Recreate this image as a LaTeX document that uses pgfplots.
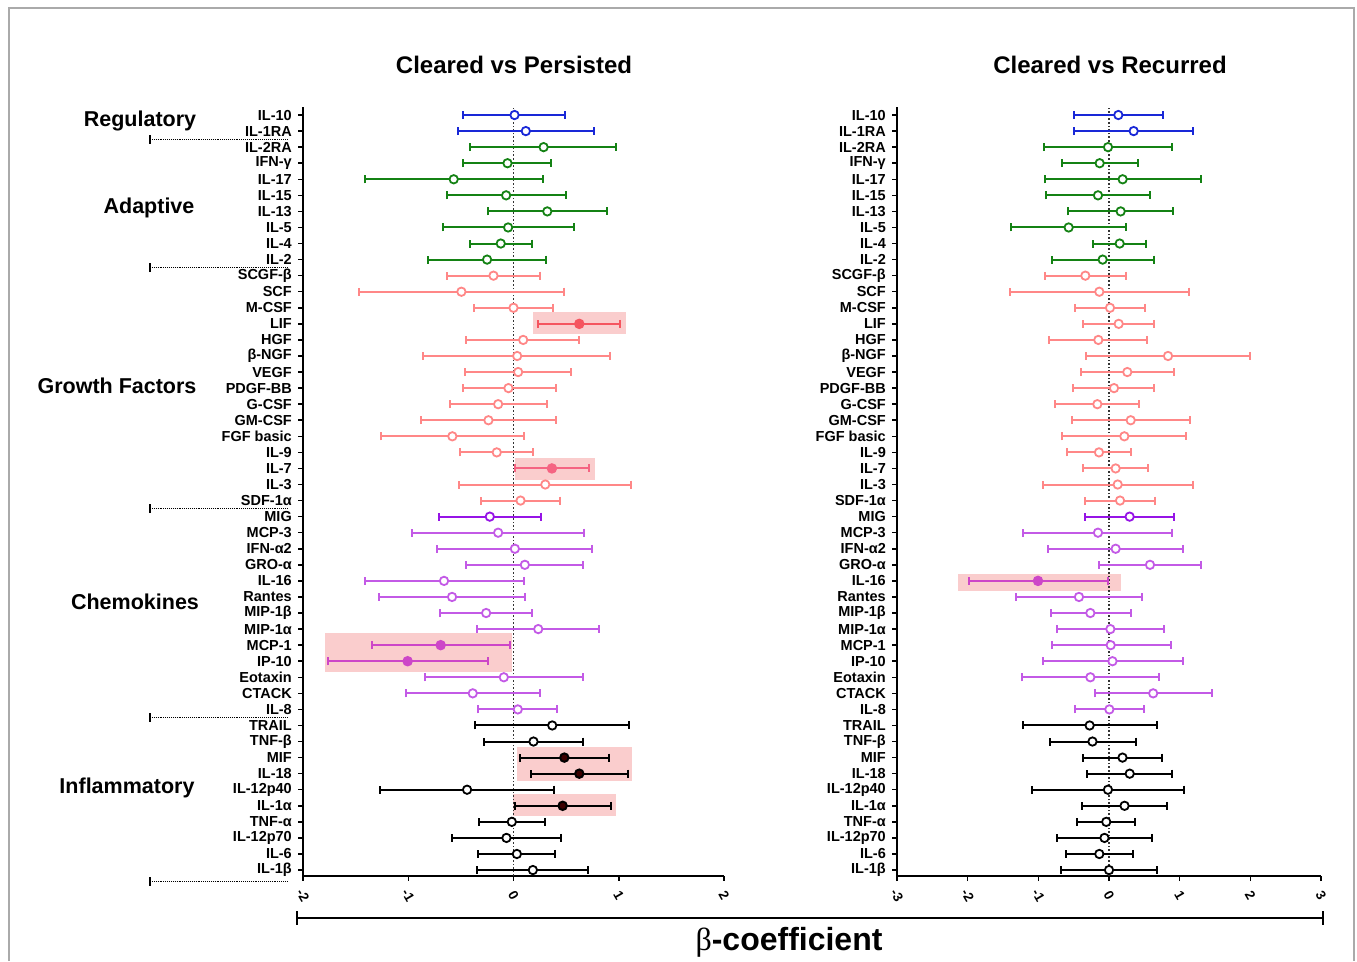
\documentclass[border=0pt]{standalone}
\usepackage{fontspec}
\setmainfont{Liberation Sans}
\newfontfamily\betafont{Liberation Serif}
\usepackage{pgfplots}
\pgfplotsset{compat=1.18}

\definecolor{cblue}{RGB}{25,40,215}
\definecolor{cgreen}{RGB}{20,130,20}
\definecolor{csalmon}{RGB}{255,135,135}
\definecolor{cred}{RGB}{245,85,95}
\definecolor{crose}{RGB}{245,100,130}
\definecolor{cpurple}{RGB}{195,90,230}
\definecolor{cmig}{RGB}{150,20,230}
\definecolor{cmag}{RGB}{205,70,200}
\definecolor{cdark}{RGB}{60,0,0}
\definecolor{hl}{RGB}{250,205,205}
\definecolor{frame}{RGB}{170,170,170}

\pgfplotsset{
  table/fpt/.style={x=b, y expr=49-\thisrow{r},
    x error plus expr=\thisrow{hi}-\thisrow{b},
    x error minus expr=\thisrow{b}-\thisrow{lo}},
  fp/.style={only marks, mark=*, color=#1, mark size=4.2pt, line width=2pt,
    mark options={fill=white, solid, line width=1.8pt},
    /pgfplots/error bars/x dir=both, /pgfplots/error bars/x explicit,
    /pgfplots/error bars/error mark=|,
    /pgfplots/error bars/error bar style={line width=2pt},
    /pgfplots/error bars/error mark options={mark size=4pt, line width=2pt}},
  fpf/.style={fp=#1, mark options={fill=#1, draw=#1}},
  cyt/.style={yticklabels={IL-1β,IL-6,IL-12p70,TNF-α,IL-1α,IL-12p40,IL-18,MIF,TNF-β,TRAIL,IL-8,CTACK,Eotaxin,IP-10,MCP-1,MIP-1α,MIP-1β,Rantes,IL-16,GRO-α,IFN-α2,MCP-3,MIG,SDF-1α,IL-3,IL-7,IL-9,FGF basic,GM-CSF,G-CSF,PDGF-BB,VEGF,β-NGF,HGF,LIF\ ,M-CSF,SCF,SCGF-β,IL-2,IL-4,IL-5,IL-13\ ,IL-15,IL-17,IFN-γ,IL-2RA,IL-1RA,IL-10}},
  base/.style={scale only axis, height=769pt, ymin=0.63, ymax=48.5,
    axis x line*=bottom, axis y line*=left, ytick={1,...,48}, cyt,
    tick align=outside, major tick length=5pt,
    axis line style={-, line width=1.8pt, black},
    every tick/.style={black, line width=1.5pt}, clip=false,
    yticklabel style={font=\fontsize{14.5}{15}\selectfont\bfseries, inner sep=1pt, xshift=-5pt},
    xticklabel style={font=\fontsize{13.5}{14}\selectfont\bfseries, anchor=center, yshift=-14pt, rotate=-60}},
}

\begin{document}
\begin{tikzpicture}[x=1pt, y=1pt]
\useasboundingbox (0,0) rectangle (1357,961);
\draw[frame, line width=1.4pt] (9,0) -- (9,953) -- (1354,953) -- (1354,0);

% titles
\node[font=\fontsize{24}{26}\selectfont\bfseries] at (514,896) {Cleared vs Persisted};
\node[font=\fontsize{24}{26}\selectfont\bfseries] at (1110,896) {Cleared vs Recurred};

% group labels
\begin{scope}[every node/.style={font=\fontsize{21.5}{23}\selectfont\bfseries}]
\node at (140,840) {Regulatory};
\node at (149,753) {Adaptive};
\node at (117,575) {Growth Factors};
\node at (135,359) {Chemokines};
\node at (127,173) {Inflammatory};
\end{scope}

% common x label
\draw[line width=1.8pt] (297,43) -- (1323,43);
\draw[line width=1.8pt] (297,36) -- (297,50);
\draw[line width=1.8pt] (1323,36) -- (1323,50);
\node[font=\fontsize{32}{34}\selectfont] at (789,19) {{\betafont β}\bfseries-coefficient};

% ---------------- Cleared vs Persisted ----------------
\begin{axis}[base, at={(303pt,85pt)}, anchor=south west, width=421pt,
  xmin=-2, xmax=2, xtick={-2,-1,0,1,2}, xticklabels={{-2},{-1},0,1,2}]
\fill[hl] (axis cs:0.187,34.38) rectangle (axis cs:1.067,35.72);
\fill[hl] (axis cs:0.013,25.3) rectangle (axis cs:0.771,26.65);
\fill[hl] (axis cs:-1.79,13.3) rectangle (axis cs:-0.013,15.73);
\fill[hl] (axis cs:0.035,6.55) rectangle (axis cs:1.13,8.63);
\fill[hl] (axis cs:-0.006,4.35) rectangle (axis cs:0.971,5.72);
\draw[dotted, line width=1.6pt, black!80] (axis cs:0,0.63) -- (axis cs:0,48.5);
% group separators
\pgfplotsinvokeforeach{46.5,38.5,23.5,10.5,0.3}{
  \draw[densely dotted, line width=0.9pt] ([xshift=-153pt]axis cs:-2,#1) -- ([xshift=-16pt]axis cs:-2,#1);
  \draw[line width=1.3pt] ([xshift=-153pt,yshift=-4.5pt]axis cs:-2,#1) -- ([xshift=-153pt,yshift=4.5pt]axis cs:-2,#1);
}
\addplot[fp=cblue] table[fpt] {
r b lo hi
1 0.01 -0.476 0.489
2 0.117 -0.53 0.762
};
\addplot[fp=cgreen] table[fpt] {
r b lo hi
3 0.286 -0.41 0.978
4 -0.057 -0.476 0.359
5 -0.568 -1.41 0.283
6 -0.07 -0.632 0.498
7 0.321 -0.241 0.889
8 -0.051 -0.673 0.575
9 -0.121 -0.41 0.175
10 -0.251 -0.813 0.311
};
\addplot[fp=csalmon, line width=1.6pt] table[fpt] {
r b lo hi
11 -0.19 -0.632 0.251
12 -0.495 -1.47 0.483
13 0 -0.378 0.375
15 0.092 -0.448 0.622
16 0.035 -0.86 0.921
17 0.044 -0.46 0.549
18 -0.048 -0.483 0.4
19 -0.146 -0.603 0.314
20 -0.238 -0.876 0.406
21 -0.581 -1.257 0.098
22 -0.159 -0.508 0.187
24 0.302 -0.514 1.114
25 0.067 -0.311 0.444
};
\addplot[fpf=cred] table[fpt] {
r b lo hi
14 0.625 0.232 1.01
};
\addplot[fpf=crose] table[fpt] {
r b lo hi
23 0.365 0.013 0.717
};
\addplot[fp=cmig] table[fpt] {
r b lo hi
26 -0.225 -0.708 0.257
};
\addplot[fp=cpurple, line width=1.6pt] table[fpt] {
r b lo hi
27 -0.146 -0.962 0.667
28 0.013 -0.727 0.743
29 0.108 -0.448 0.66
30 -0.66 -1.41 0.098
31 -0.584 -1.279 0.108
32 -0.26 -0.698 0.175
33 0.235 -0.346 0.816
36 -0.092 -0.841 0.66
37 -0.387 -1.019 0.254
38 0.041 -0.333 0.413
};
\addplot[fpf=cmag] table[fpt] {
r b lo hi
34 -0.692 -1.346 -0.038
35 -1.006 -1.762 -0.241
};
\addplot[fp=black] table[fpt] {
r b lo hi
39 0.368 -0.368 1.10
40 0.19 -0.279 0.66
43 -0.441 -1.267 0.381
45 -0.016 -0.33 0.298
46 -0.067 -0.584 0.451
47 0.032 -0.337 0.397
48 0.184 -0.343 0.708
};
\addplot[fp=black, mark options={fill=cdark, draw=black}] table[fpt] {
r b lo hi
41 0.483 0.057 0.911
42 0.625 0.162 1.086
44 0.467 0.013 0.927
};
\end{axis}

% ---------------- Cleared vs Recurred ----------------
\begin{axis}[base, at={(897pt,85pt)}, anchor=south west, width=424pt,
  xmin=-3, xmax=3, xtick={-3,-2,-1,0,1,2,3}, xticklabels={{-3},{-2},{-1},0,1,2,3}]
\fill[hl] (axis cs:-2.14,18.4) rectangle (axis cs:0.165,19.42);
\draw[dotted, line width=1.6pt, black!80] (axis cs:0,0.63) -- (axis cs:0,48.5);
\addplot[fp=cblue] table[fpt] {
r b lo hi
1 0.132 -0.495 0.759
2 0.349 -0.495 1.193
};
\addplot[fp=cgreen] table[fpt] {
r b lo hi
3 -0.014 -0.915 0.887
4 -0.132 -0.665 0.406
5 0.193 -0.906 1.297
6 -0.156 -0.892 0.575
7 0.165 -0.575 0.901
8 -0.571 -1.392 0.241
9 0.151 -0.226 0.528
10 -0.09 -0.811 0.637
};
\addplot[fp=csalmon, line width=1.6pt] table[fpt] {
r b lo hi
11 -0.335 -0.906 0.241
12 -0.137 -1.406 1.127
13 0.014 -0.476 0.505
14 0.137 -0.363 0.637
15 -0.151 -0.849 0.542
16 0.835 -0.321 1.99
17 0.259 -0.396 0.915
18 0.071 -0.505 0.642
19 -0.165 -0.764 0.429
20 0.307 -0.524 1.151
21 0.217 -0.665 1.094
22 -0.142 -0.594 0.307
23 0.094 -0.363 0.547
24 0.123 -0.939 1.189
25 0.156 -0.34 0.646
};
\addplot[fp=cmig] table[fpt] {
r b lo hi
26 0.292 -0.34 0.925
};
\addplot[fp=cpurple, line width=1.6pt] table[fpt] {
r b lo hi
27 -0.156 -1.217 0.896
28 0.094 -0.868 1.042
29 0.58 -0.137 1.297
31 -0.425 -1.32 0.472
32 -0.264 -0.825 0.307
33 0.019 -0.736 0.778
34 0.024 -0.806 0.874
35 0.049 -0.938 1.041
36 -0.264 -1.231 0.713
37 0.625 -0.195 1.456
38 0.005 -0.484 0.489
};
\addplot[fpf=cmag] table[fpt] {
r b lo hi
30 -1.005 -1.976 -0.019
};
\addplot[fp=black] table[fpt] {
r b lo hi
39 -0.274 -1.221 0.684
40 -0.234 -0.84 0.381
41 0.191 -0.366 0.752
42 0.293 -0.308 0.894
43 -0.015 -1.094 1.065
44 0.22 -0.376 0.821
45 -0.039 -0.454 0.371
46 -0.064 -0.733 0.611
47 -0.137 -0.611 0.342
48 0 -0.684 0.679
};
\end{axis}
\end{tikzpicture}
\end{document}
